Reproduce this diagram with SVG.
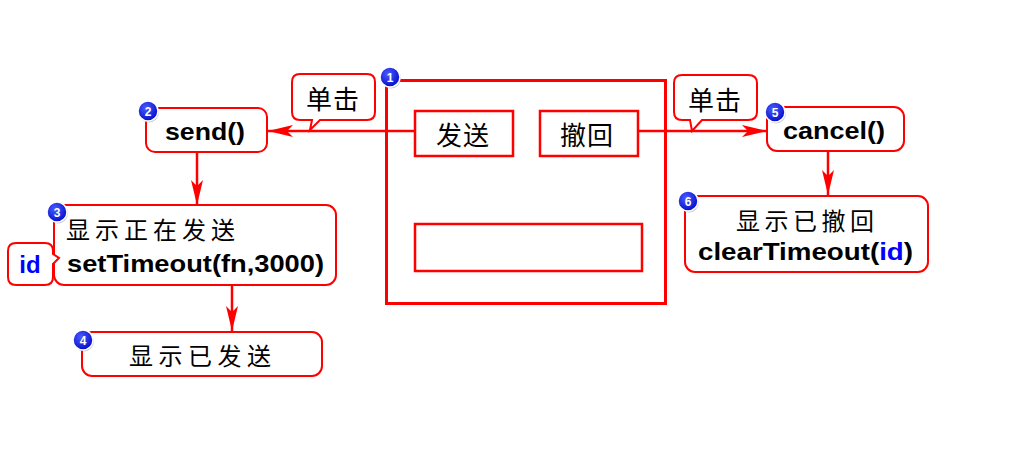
<svg xmlns="http://www.w3.org/2000/svg" width="1024" height="450" viewBox="0 0 1024 450">
<defs>
<style>
.box{fill:#fff;stroke:#ff0000;stroke-width:2}
.frame{fill:none;stroke:#ff0000;stroke-width:3}
.btn{fill:#fff;stroke:#ff0000;stroke-width:2.5}
.line{fill:none;stroke:#ff0000;stroke-width:2.5}
.code{font-family:"Liberation Sans",Arial,sans-serif;font-weight:bold;font-size:24px;fill:#000}
.cjk{font-family:"Noto Sans CJK SC",sans-serif;font-size:24px;fill:#000;letter-spacing:5px}
.big{font-family:"Noto Sans CJK SC",sans-serif;font-size:26px;fill:#000;letter-spacing:1px}
.blue{fill:#0000ff}
.bn{font-family:"Liberation Sans",Arial,sans-serif;font-weight:bold;font-size:12px;fill:#fff;text-anchor:middle}
</style>
<radialGradient id="bg" cx="40%" cy="35%" r="70%">
<stop offset="0" stop-color="#4a5cff"/>
<stop offset="1" stop-color="#0008c8"/>
</radialGradient>
<marker id="ah" markerWidth="26" markerHeight="12" refX="25" refY="6" orient="auto" markerUnits="userSpaceOnUse">
<path d="M0,0 L25,6 L0,12 L6,6 Z" fill="#ff0000"/>
</marker>
<g id="badge">
<circle cx="1" cy="1.5" r="10" fill="#999" opacity="0.5"/>
<circle r="10" fill="url(#bg)" stroke="#fff" stroke-width="1.5"/>
</g>
</defs>
<rect width="1024" height="450" fill="#fff"/>

<g id="connectors">
<line class="line" x1="415" y1="131" x2="268" y2="131" marker-end="url(#ah)"/>
<line class="line" x1="638" y1="131" x2="767" y2="131" marker-end="url(#ah)"/>
<line class="line" x1="197" y1="152" x2="197" y2="205" marker-end="url(#ah)"/>
<line class="line" x1="232" y1="285" x2="232" y2="331" marker-end="url(#ah)"/>
<line class="line" x1="828" y1="151" x2="828" y2="195" marker-end="url(#ah)"/>
</g>

<g id="ui">
<rect class="frame" x="386.5" y="80.5" width="279" height="223"/>
<rect class="btn" x="415" y="111" width="98" height="45"/>
<text class="big" x="436" y="145">发送</text>
<rect class="btn" x="540" y="111" width="98" height="45"/>
<text class="big" x="560" y="145">撤回</text>
<rect class="btn" x="415" y="224" width="227" height="47"/>
<use href="#badge" x="390" y="77"/>
<text class="bn" x="390" y="81.5">1</text>
</g>

<g id="callout-left">
<path class="box" d="M302,74 H367 Q375,74 375,82 V112 Q375,120 367,120 H320 L310,130 L312,120 H300 Q292,120 292,112 V82 Q292,74 300,74 Z"/>
<text class="big" x="306" y="109">单击</text>
</g>

<g id="callout-right">
<path class="box" d="M682,75 H748 Q757,75 757,83 V112 Q757,120 748,120 H702 L692,131 L690,120 H682 Q674,120 674,112 V83 Q674,75 682,75 Z"/>
<text class="big" x="688" y="110">单击</text>
</g>

<g id="send">
<rect class="box" x="146" y="108" width="121" height="44" rx="9"/>
<text class="code" x="165" y="140" textLength="80" lengthAdjust="spacingAndGlyphs">send()</text>
<use href="#badge" x="148" y="111"/>
<text class="bn" x="148" y="115.5">2</text>
</g>

<g id="sending">
<rect class="box" x="54" y="205" width="282" height="80" rx="10"/>
<text class="cjk" x="66" y="239">显示正在发送</text>
<text class="code" x="67" y="272" textLength="257" lengthAdjust="spacingAndGlyphs">setTimeout(fn,3000)</text>
<use href="#badge" x="57" y="212"/>
<text class="bn" x="57" y="216.5">3</text>
</g>

<g id="id-callout">
<path class="box" d="M16,243 H45 Q53,243 53,251 V254 L59,258 L53,264 V277 Q53,285 45,285 H16 Q8,285 8,277 V251 Q8,243 16,243 Z"/>
<text class="code blue" x="30" y="273" text-anchor="middle">id</text>
</g>

<g id="sent">
<rect class="box" x="82" y="332" width="240" height="44" rx="10"/>
<text class="cjk" x="129" y="365" style="letter-spacing:5.5px">显示已发送</text>
<use href="#badge" x="83" y="340"/>
<text class="bn" x="83" y="344.5">4</text>
</g>

<g id="cancel">
<rect class="box" x="767" y="107" width="137" height="44" rx="10"/>
<text class="code" x="783" y="139" textLength="102" lengthAdjust="spacingAndGlyphs">cancel()</text>
<use href="#badge" x="775" y="112"/>
<text class="bn" x="775" y="116.5">5</text>
</g>

<g id="canceled">
<rect class="box" x="685" y="196" width="243" height="76" rx="10"/>
<text class="cjk" x="736" y="230" style="letter-spacing:4.5px">显示已撤回</text>
<text class="code" x="698" y="260" textLength="215" lengthAdjust="spacingAndGlyphs">clearTimeout(<tspan class="blue">id</tspan>)</text>
<use href="#badge" x="688" y="201"/>
<text class="bn" x="688" y="205.5">6</text>
</g>
</svg>
